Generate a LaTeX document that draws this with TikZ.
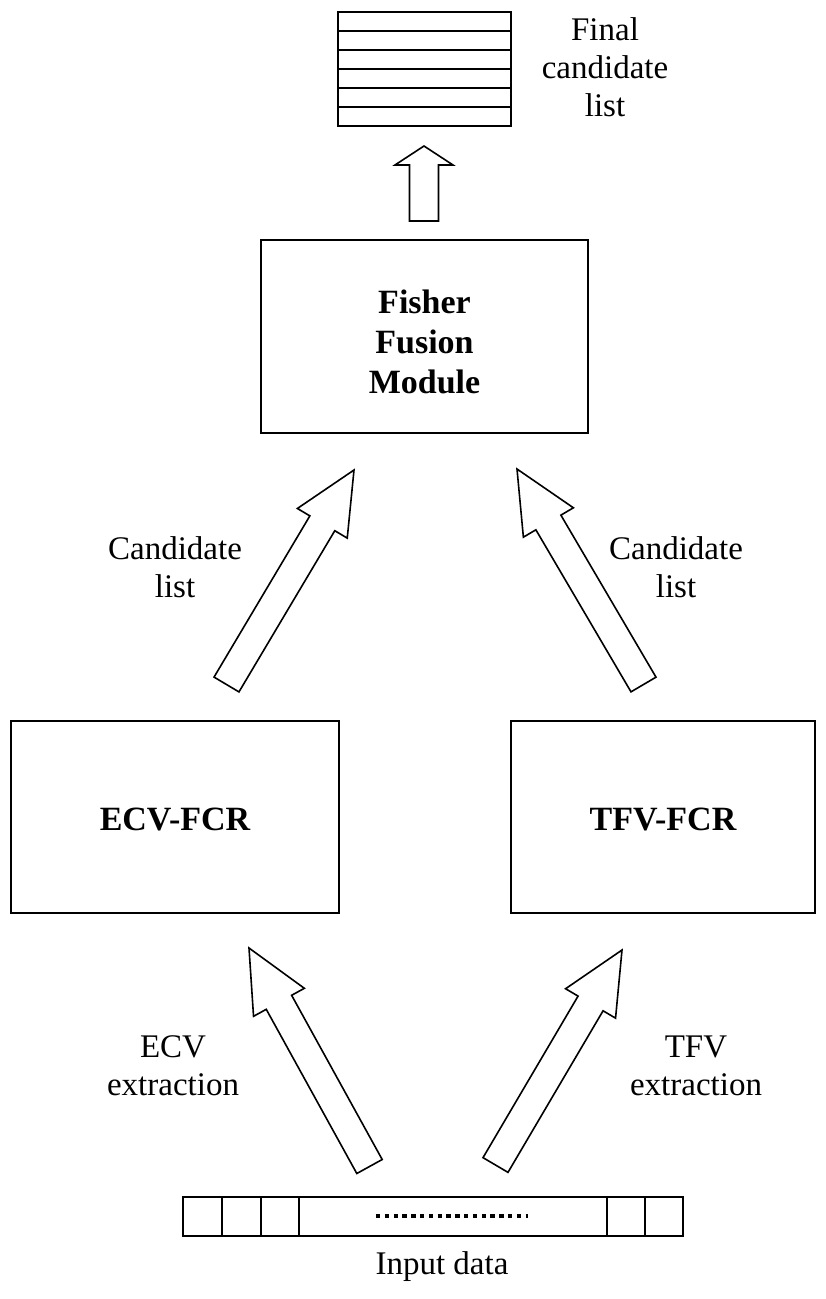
\documentclass[tikz,border=0pt]{standalone}
\usepackage{fontspec}
\setmainfont{Liberation Serif}
\usetikzlibrary{calc}

\tikzset{
  lbl/.style={align=center, font=\fontsize{33}{38}\selectfont},
  title/.style={align=center, font=\fontsize{34}{40}\selectfont\bfseries},
  frame/.style={line width=1.8pt},
  blockarrow/.style={draw, line width=1.6pt, fill=white, line join=miter},
  rule/.style={line width=1.6pt},
}

% hollow block arrow: tail centre #1, tip #2, head length #3 (pt)
\newcommand\blockarrow[3]{%
  \coordinate (ah) at ($(#2)!#3pt!(#1)$);
  \draw[blockarrow]
    ($(#1)!14.5pt!90:(#2)$) -- ($(ah)!14.5pt!90:(#2)$) --
    ($(ah)!29pt!90:(#2)$) -- (#2) --
    ($(ah)!29pt!-90:(#2)$) -- ($(ah)!14.5pt!-90:(#2)$) --
    ($(#1)!14.5pt!-90:(#2)$) -- cycle;
}

\begin{document}
\begin{tikzpicture}[x=1pt, y=-1pt]
\useasboundingbox (0,0) rectangle (826,1299);

% final candidate list (stacked rows)
\draw[rule] (338,12) rectangle (511,126);
\foreach \yy in {31,50,69,88,107} \draw[rule] (338,\yy) -- (511,\yy);
\node[lbl] (finallbl) at (605,67) {Final\\candidate\\list};

% fusion module
\draw[frame] (261,240) rectangle (588,433);
\node[title] (fishertxt) at (424.5,342) {Fisher\\Fusion\\Module};

% recognisers
\draw[frame] (11,721) rectangle (339,913);
\node[title] (ecv) at (175,819) {ECV-FCR};
\draw[frame] (511,721) rectangle (815,913);
\node[title] (tfv) at (663,819) {TFV-FCR};

% arrow labels
\node[lbl] (candl) at (175,567) {Candidate\\list};
\node[lbl] (candr) at (676,567) {Candidate\\list};
\node[lbl] (ecvx) at (173,1066) {ECV\\extraction};
\node[lbl] (tfvx) at (696,1066) {TFV\\extraction};

% input data strip
\draw[rule] (183,1197) rectangle (683,1236);
\foreach \xx in {222,261,299,607,645} \draw[rule] (\xx,1197) -- (\xx,1236);
\draw[line width=3.6pt, dash pattern=on 4.4pt off 4.4pt] (376,1216) -- (528,1216);
\node[lbl] (input) at (442,1267) {Input data};

% arrow end points
\coordinate (t0) at (424,221);   \coordinate (h0) at (424,146);
\coordinate (t1) at (226.5,684.5); \coordinate (h1) at (354,470);
\coordinate (t2) at (643.5,684.5); \coordinate (h2) at (517,469);
\coordinate (t3) at (369.5,1166.5); \coordinate (h3) at (249,948);
\coordinate (t4) at (495.5,1165); \coordinate (h4) at (622,950);

\blockarrow{t0}{h0}{19}
\blockarrow{t1}{h1}{62}
\blockarrow{t2}{h2}{62}
\blockarrow{t3}{h3}{62}
\blockarrow{t4}{h4}{62}
\end{tikzpicture}
\end{document}
